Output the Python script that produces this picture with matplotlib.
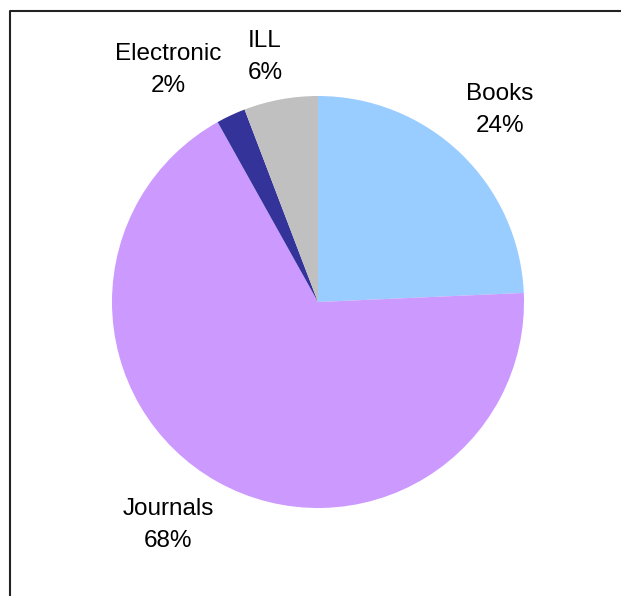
import matplotlib.pyplot as plt
from matplotlib.lines import Line2D

categories = ["Books", "Journals", "Electronic", "ILL"]
shares = [24.3, 67.6, 2.3, 5.8]
pct_labels = ["24%", "68%", "2%", "6%"]
colors = ["#99CCFF", "#CC99FF", "#333399", "#C0C0C0"]

# label centres in pixels (x, y from top) as Excel placed them
label_pos = [(500, 110), (168, 525), (168, 70), (265, 57)]

plt.rcParams['font.family'] = ['Liberation Sans', 'DejaVu Sans']

W, H = 621, 596
fig = plt.figure(figsize=(W / 100, H / 100), dpi=100)

# pie area: centre (318, 302), radius 206 px
cx, cy, r = 318, 302, 206
ax = fig.add_axes([(cx - r) / W, (H - cy - r) / H, 2 * r / W, 2 * r / H])
ax.pie(shares, colors=colors, startangle=90, counterclock=False, radius=1,
       wedgeprops=dict(linewidth=0))
ax.set_xlim(-1, 1)
ax.set_ylim(-1, 1)
ax.set_aspect('equal')
ax.axis('off')

for name, pct, (px, py) in zip(categories, pct_labels, label_pos):
    fig.text(px / W, 1 - py / H, f"{name}\n{pct}", ha='center', va='center',
             fontsize=17.5, linespacing=1.6, color='black')

# chart frame: only the left and top edges fall inside the picture
fx, fy = 10 / W, 1 - 11 / H
fig.add_artist(Line2D([fx, fx, 1.0], [-0.05, fy, fy], transform=fig.transFigure,
                      color='#222222', linewidth=1.5))

fig.savefig("out.png", dpi=100)
